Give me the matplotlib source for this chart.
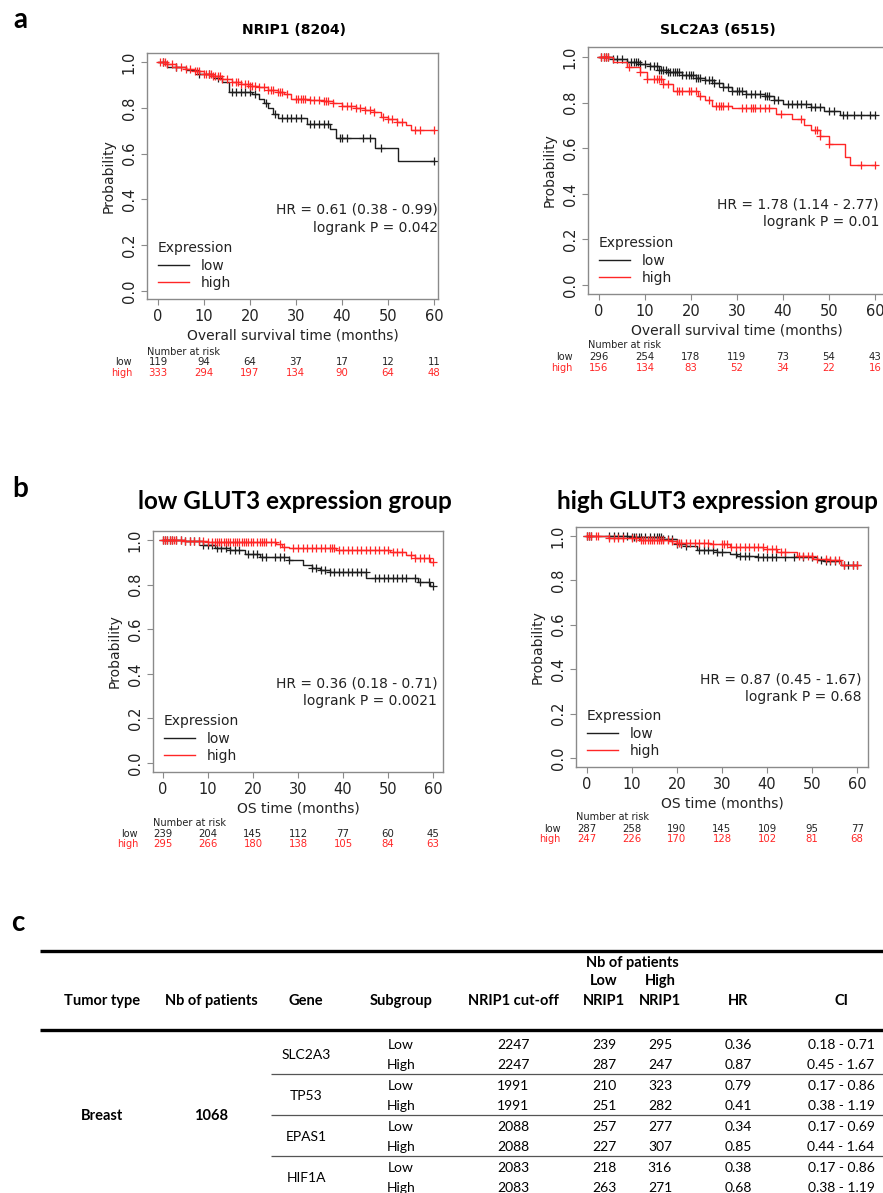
import numpy as np
import matplotlib
matplotlib.use("Agg")
from matplotlib import pyplot as plt

W, H = 883, 1193

# ---- panel a: NRIP1 ----
a1_low_t = [0, 2, 6, 9, 12, 14, 15.5, 20.5, 22, 23, 24, 25, 26, 32.5, 37.5, 38.8, 47.3, 52.2, 60]
a1_low_s = [1.0, 0.98, 0.965, 0.95, 0.93, 0.915, 0.87, 0.86, 0.84, 0.82, 0.8, 0.775, 0.755, 0.73, 0.71, 0.67, 0.625, 0.57, 0.57]
a1_low_c = [1, 4, 9, 11, 13, 16, 17, 18, 19, 20, 21, 23.5, 25.5, 27, 28, 29, 30, 31, 33, 34, 35, 36, 37,
            39.5, 40, 41, 44.5, 46, 48.5, 60]
a1_high_t = [0, 2, 4, 6, 8, 10, 12, 14, 16, 18, 20, 22, 24, 26, 27.5, 29, 33, 36, 38, 40, 43, 45, 47, 48.5, 50, 52, 54, 55, 60]
a1_high_s = [1.0, 0.99, 0.98, 0.97, 0.96, 0.95, 0.94, 0.925, 0.915, 0.905, 0.895, 0.89, 0.88, 0.87, 0.86, 0.84,
             0.835, 0.83, 0.82, 0.81, 0.8, 0.79, 0.78, 0.76, 0.75, 0.74, 0.725, 0.705, 0.705]
a1_high_c = [0.5, 1, 1.5, 2, 3, 4, 5, 6, 7, 8, 8.5, 9, 10, 10.5, 11, 11.5, 12, 12.5, 13, 13.5, 14, 15, 16, 17,
             17.5, 18, 19, 19.5, 20, 20.5, 21, 22, 23, 24, 24.5, 25, 26, 26.5, 27, 28, 30, 30.5, 31, 31.5, 32,
             33, 34, 35, 36, 36.5, 37, 38, 40, 41, 42, 43, 44, 45, 46, 47, 49, 50, 51, 52, 53, 56, 57, 60]
a1_risk_low = [119, 94, 64, 37, 17, 12, 11]
a1_risk_high = [333, 294, 197, 134, 90, 64, 48]

# ---- panel a: SLC2A3 ----
a2_low_t = [0, 3, 6, 9, 11, 13, 15, 18, 21, 23, 25, 27, 29, 32, 36, 38, 40, 46, 49, 52.5, 60]
a2_low_s = [1.0, 0.99, 0.98, 0.97, 0.96, 0.945, 0.935, 0.92, 0.91, 0.9, 0.885, 0.87, 0.85, 0.84, 0.83, 0.81,
            0.795, 0.78, 0.765, 0.748, 0.748]
a2_low_c = [0.5, 1, 1.5, 2, 3, 4, 5, 6, 7, 7.5, 8, 8.5, 9, 10, 11, 12, 12.5, 13, 13.5, 14, 14.5, 15, 15.5, 16,
            16.5, 17, 17.5, 18, 19, 19.5, 20, 20.5, 21, 21.5, 22, 23, 24, 24.5, 25, 26, 27, 28, 29, 30, 30.5,
            31, 32, 33, 34, 35, 36, 36.5, 37, 38, 39, 41, 42, 43, 44, 45, 46, 47, 48, 50, 51, 53, 54, 55.5,
            57, 59, 60]
a2_high_t = [0, 3, 6, 9, 10.5, 14, 16, 21.5, 23, 24.5, 25.5, 29, 38.5, 42, 44.5, 46, 48, 50, 53.5, 54.6, 60]
a2_high_s = [1.0, 0.98, 0.955, 0.935, 0.905, 0.88, 0.85, 0.83, 0.81, 0.785, 0.785, 0.775, 0.75, 0.73, 0.70,
             0.68, 0.655, 0.62, 0.56, 0.528, 0.528]
a2_high_c = [0.5, 1, 1.5, 2, 6.5, 9, 10.5, 12, 12.5, 13, 13.5, 14, 15, 17, 17.5, 18, 19.5, 20, 21, 22, 24,
             25.5, 26, 26.5, 27, 28, 31, 32, 33, 33.5, 34, 35, 36, 37, 39.5, 44, 47, 47.5, 48, 50, 57, 60]
a2_risk_low = [296, 254, 178, 119, 73, 54, 43]
a2_risk_high = [156, 134, 83, 52, 34, 22, 16]

# ---- panel b: low GLUT3 group ----
b1_low_t = [0, 5, 9, 11.5, 14.8, 18.3, 21.5, 28, 31, 33, 34.8, 37, 45.2, 56.7, 59.3, 60]
b1_low_s = [1.0, 0.993, 0.978, 0.963, 0.955, 0.937, 0.922, 0.91, 0.888, 0.873, 0.866, 0.855, 0.831, 0.813,
            0.794, 0.794]
b1_low_c = [0, 0.5, 1, 1.5, 2, 3, 4, 5, 6, 7, 8, 9, 10, 11, 12, 13, 14, 15, 16, 17, 19, 20, 21, 22, 23, 25,
            26, 27, 28, 33, 34, 35, 36, 37, 38, 39, 40, 41, 42, 43, 44, 45, 47, 48, 49, 50, 51, 52, 53, 54,
            56, 57, 59, 60]
b1_high_t = [0, 5, 10, 25.2, 26.5, 28, 38.5, 50.4, 54, 56, 59.3, 60]
b1_high_s = [1.0, 0.995, 0.99, 0.98, 0.97, 0.962, 0.955, 0.945, 0.933, 0.917, 0.903, 0.903]
b1_high_c = [0, 0.5, 1, 1.5, 2, 2.5, 3, 4, 5, 6, 7, 8, 9, 10, 11, 11.5, 12, 12.5, 13, 13.5, 14, 14.5, 15,
             15.5, 16, 16.5, 17, 17.5, 18, 18.5, 19, 19.5, 20, 21, 21.5, 22, 22.5, 23, 24, 25, 26, 27, 29,
             30, 31, 32, 33, 34, 35, 36, 37, 37.5, 38, 39, 40, 41, 42, 43, 44, 45, 46, 47, 48, 49, 50, 51,
             52, 53, 55, 56, 57, 58, 59, 60]
b1_risk_low = [239, 204, 145, 112, 77, 60, 45]
b1_risk_high = [295, 266, 180, 138, 105, 84, 63]

# ---- panel b: high GLUT3 group ----
b2_low_t = [0, 10, 17, 20, 22, 24.4, 28.8, 31.8, 33.3, 37.7, 51.1, 52.6, 56.3, 60]
b2_low_s = [1.0, 0.995, 0.988, 0.963, 0.954, 0.936, 0.928, 0.918, 0.91, 0.903, 0.89, 0.885, 0.871, 0.871]
b2_low_c = [0, 0.5, 1, 5, 6, 7, 8, 9, 10, 10.5, 11, 11.5, 12, 13, 14, 15, 15.5, 16, 16.5, 17, 18, 19, 20,
            21, 22, 25, 26, 27, 28, 29, 30, 33, 34, 35, 36, 38, 39, 40, 41, 42, 44, 46, 48, 50, 52, 53, 54,
            55, 57, 58, 59, 60]
b2_high_t = [0, 5, 11.7, 18.4, 20, 27.3, 31.8, 39.2, 42.2, 46.6, 50.3, 54, 56.3, 60]
b2_high_s = [1.0, 0.99, 0.98, 0.975, 0.97, 0.963, 0.951, 0.94, 0.928, 0.909, 0.898, 0.89, 0.868, 0.868]
b2_high_c = [0, 0.5, 1, 2, 2.5, 5, 6, 7, 8, 10, 11, 12, 12.5, 13, 13.5, 14, 14.5, 15, 15.5, 16, 16.5, 17,
             18, 19, 20, 20.5, 21, 22, 23, 24, 25, 26, 27, 28, 30, 30.5, 31, 32, 33, 34, 35, 36, 37, 38, 39,
             40, 41, 42, 43, 44, 47, 48, 49, 50, 51, 53, 54, 55, 56, 57, 59, 60]
b2_risk_low = [287, 258, 190, 145, 109, 95, 77]
b2_risk_high = [247, 226, 170, 128, 102, 81, 68]

risk_times = [0, 10, 20, 30, 40, 50, 60]

# ---- panel c: table ----
tab_genes = ["SLC2A3", "TP53", "EPAS1", "HIF1A"]
tab_subgroup = ["Low", "High"] * 4
tab_cutoff = [2247, 2247, 1991, 1991, 2088, 2088, 2083, 2083]
tab_low_n = [239, 287, 210, 251, 257, 227, 218, 263]
tab_high_n = [295, 247, 323, 282, 277, 307, 316, 271]
tab_hr = ["0.36", "0.87", "0.79", "0.41", "0.34", "0.85", "0.38", "0.68"]
tab_ci = ["0.18 - 0.71", "0.45 - 1.67", "0.17 - 0.86", "0.38 - 1.19",
          "0.17 - 0.69", "0.44 - 1.64", "0.17 - 0.86", "0.38 - 1.19"]

BLACK = "#1e1e1e"
RED = "#ff2626"
FRAME = "#8a8a8a"

fig = plt.figure(figsize=(W / 100, H / 100), dpi=100)


def px_axes(left, top, right, bottom):
    return fig.add_axes([left / W, 1 - bottom / H, (right - left) / W, (bottom - top) / H])


def km_panel(box, xlim, ylim, low, high, risk_low, risk_high, hr, pval, xlabel, risk_dy):
    ax = px_axes(*box)
    for (t, s, c), color in ((low, BLACK), (high, RED)):
        t = np.array(t)
        s = np.array(s)
        ax.step(t, s, where="post", color=color, lw=1.0)
        idx = np.searchsorted(t, np.array(c), side="right") - 1
        ax.plot(c, s[idx], ls="none", marker="+", ms=6, mew=0.9, color=color)
    ax.set_xlim(*xlim)
    ax.set_ylim(*ylim)
    ax.set_xticks(risk_times)
    ax.set_yticks([0.0, 0.2, 0.4, 0.6, 0.8, 1.0])
    ax.set_yticklabels(["0.0", "0.2", "0.4", "0.6", "0.8", "1.0"], rotation=90, va="center")
    for sp in ax.spines.values():
        sp.set_color(FRAME)
        sp.set_linewidth(1.0)
    ax.tick_params(colors=FRAME, labelcolor="#222222", labelsize=10.5, length=4, width=0.8)
    ax.set_ylabel("Probability", fontsize=10, color="#222222", labelpad=4)
    ax.set_xlabel(xlabel, fontsize=10, color="#222222", labelpad=3)
    ax.text(60.9, 0.355, hr, ha="right", va="center", fontsize=10, color="#222222")
    ax.text(60.9, 0.276, pval, ha="right", va="center", fontsize=10, color="#222222")
    lines = ax.get_lines()
    leg = ax.legend([lines[0], lines[2]], ["low", "high"], title="Expression", frameon=False,
                    loc="lower left", bbox_to_anchor=(0.0, -0.01), fontsize=10, title_fontsize=10,
                    handlelength=2.2, handletextpad=0.9, labelspacing=0.25, borderpad=0.3)
    leg._legend_box.align = "left"
    leg.get_title().set_color("#222222")
    for txt in leg.get_texts():
        txt.set_color("#222222")
    trans = ax.get_xaxis_transform()
    d0, d1, d2 = risk_dy
    ax.annotate("Number at risk", xy=(xlim[0], 0), xycoords=trans, xytext=(0, -d0),
                textcoords="offset pixels", ha="left", va="center", fontsize=7, color="#222222",
                annotation_clip=False)
    ax.annotate("low", xy=(xlim[0], 0), xycoords=trans, xytext=(-15, -d1), textcoords="offset pixels",
                ha="right", va="center", fontsize=7, color="#222222", annotation_clip=False)
    ax.annotate("high", xy=(xlim[0], 0), xycoords=trans, xytext=(-15, -d2), textcoords="offset pixels",
                ha="right", va="center", fontsize=7, color=RED, annotation_clip=False)
    for x, n1, n2 in zip(risk_times, risk_low, risk_high):
        ax.annotate(str(n1), xy=(x, 0), xycoords=trans, xytext=(0, -d1), textcoords="offset pixels",
                    ha="center", va="center", fontsize=7.3, color="#222222", annotation_clip=False)
        ax.annotate(str(n2), xy=(x, 0), xycoords=trans, xytext=(0, -d2), textcoords="offset pixels",
                    ha="center", va="center", fontsize=7.3, color=RED, annotation_clip=False)
    return ax


km_panel((147, 53, 438, 299), (-2.4, 60.9), (-0.035, 1.04),
         (a1_low_t, a1_low_s, a1_low_c), (a1_high_t, a1_high_s, a1_high_c),
         a1_risk_low, a1_risk_high, "HR = 0.61 (0.38 - 0.99)", "logrank P = 0.042",
         "Overall survival time (months)", (53, 63, 74))
km_panel((588, 47, 885, 294), (-2.4, 62.2), (-0.039, 1.044),
         (a2_low_t, a2_low_s, a2_low_c), (a2_high_t, a2_high_s, a2_high_c),
         a2_risk_low, a2_risk_high, "HR = 1.78 (1.14 - 2.77)", "logrank P = 0.01",
         "Overall survival time (months)", (51, 63, 74))
km_panel((153, 531, 443, 772), (-2.2, 62.2), (-0.04, 1.04),
         (b1_low_t, b1_low_s, b1_low_c), (b1_high_t, b1_high_s, b1_high_c),
         b1_risk_low, b1_risk_high, "HR = 0.36 (0.18 - 0.71)", "logrank P = 0.0021",
         "OS time (months)", (51, 62, 72))
km_panel((576, 527, 868, 767), (-2.4, 62.4), (-0.04, 1.04),
         (b2_low_t, b2_low_s, b2_low_c), (b2_high_t, b2_high_s, b2_high_c),
         b2_risk_low, b2_risk_high, "HR = 0.87 (0.45 - 1.67)", "logrank P = 0.68",
         "OS time (months)", (50, 62, 72))

# titles and panel letters
fig.text(294 / W, 1 - 30 / H, "NRIP1 (8204)", ha="center", va="center", fontsize=10, fontweight="bold")
fig.text(718 / W, 1 - 30 / H, "SLC2A3 (6515)", ha="center", va="center", fontsize=10, fontweight="bold")
fig.text(295 / W, 1 - 502 / H, "low GLUT3 expression group", ha="center", va="center",
         fontsize=17.5, fontweight="bold", family="Lato")
fig.text(717 / W, 1 - 502 / H, "high GLUT3 expression group", ha="center", va="center",
         fontsize=17.5, fontweight="bold", family="Lato")
for lab, x, y in (("a", 20, 20), ("b", 20, 489), ("c", 18, 923)):
    fig.text(x / W, 1 - y / H, lab, ha="center", va="center", fontsize=20, fontweight="bold", family="Lato")

# table
tab = px_axes(0, 940, W, H)
tab.set_xlim(0, W)
tab.set_ylim(H, 940)
tab.axis("off")
col_x = [102, 211, 306, 401, 513, 604, 660, 738, 841]
row_y = [1045 + 20.5 * i for i in range(8)]
tab.hlines([951, 1030], 40, W, color="black", lw=2.4)
tab.hlines([1074, 1115, 1156], 271, W, color="#555555", lw=0.9)
hdr = dict(ha="center", va="center", fontsize=10.5, fontweight="bold", family="Lato")
body = dict(ha="center", va="center", fontsize=10, family="Lato")
for x, lab in zip(col_x, ["Tumor type", "Nb of patients", "Gene", "Subgroup", "NRIP1 cut-off",
                          "NRIP1", "NRIP1", "HR", "CI"]):
    tab.text(x, 1001, lab, **hdr)
tab.text(col_x[5], 981, "Low", **hdr)
tab.text(col_x[6], 981, "High", **hdr)
tab.text((col_x[5] + col_x[6]) / 2, 963, "Nb of patients", **hdr)
tab.text(col_x[0], 1116, "Breast", **hdr)
tab.text(col_x[1], 1116, "1068", **hdr)
for i, g in enumerate(tab_genes):
    tab.text(col_x[2], (row_y[2 * i] + row_y[2 * i + 1]) / 2, g, **body)
for i in range(8):
    vals = [tab_subgroup[i], tab_cutoff[i], tab_low_n[i], tab_high_n[i], tab_hr[i], tab_ci[i]]
    for x, v in zip(col_x[3:], vals):
        tab.text(x, row_y[i], str(v), **body)

fig.savefig("out.png", dpi=100)
